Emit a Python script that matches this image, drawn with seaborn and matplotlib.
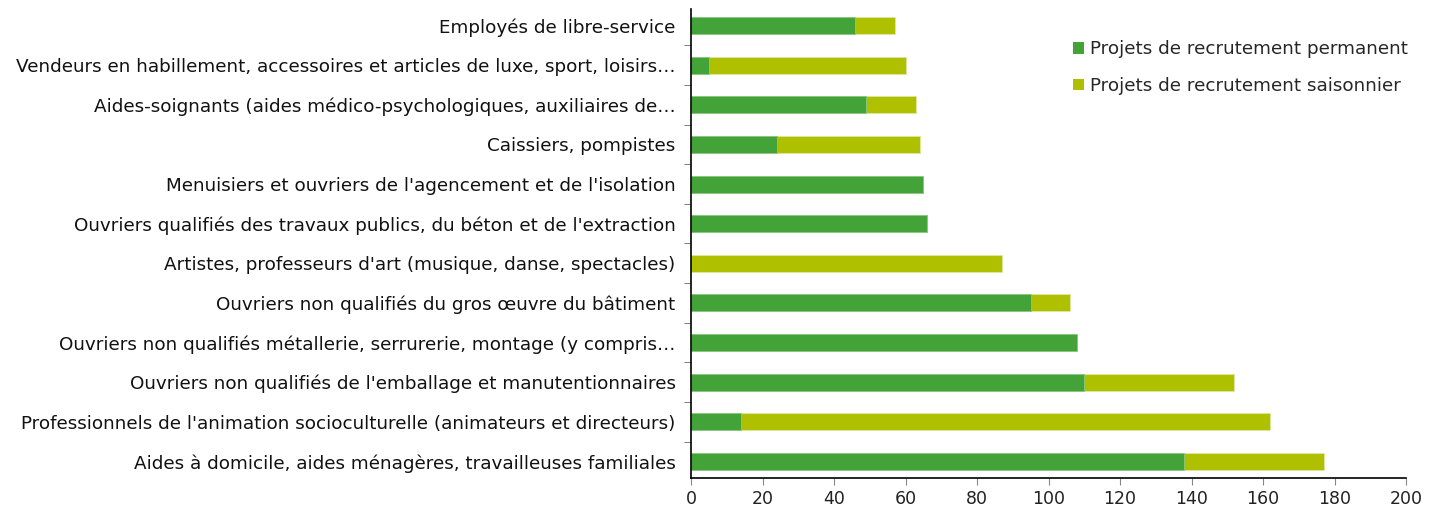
import matplotlib
matplotlib.use("Agg")
import matplotlib.pyplot as plt
import seaborn as sns
import numpy as np
import pandas as pd
from matplotlib.patches import Patch

categories = [
    "Employés de libre-service",
    "Vendeurs en habillement, accessoires et articles de luxe, sport, loisirs…",
    "Aides-soignants (aides médico-psychologiques, auxiliaires de…",
    "Caissiers, pompistes",
    "Menuisiers et ouvriers de l'agencement et de l'isolation",
    "Ouvriers qualifiés des travaux publics, du béton et de l'extraction",
    "Artistes, professeurs d'art (musique, danse, spectacles)",
    "Ouvriers non qualifiés du gros œuvre du bâtiment",
    "Ouvriers non qualifiés métallerie, serrurerie, montage (y compris…",
    "Ouvriers non qualifiés de l'emballage et manutentionnaires",
    "Professionnels de l'animation socioculturelle (animateurs et directeurs)",
    "Aides à domicile, aides ménagères, travailleuses familiales",
]
permanent = [46, 5, 49, 24, 65, 66, 0, 95, 108, 110, 14, 138]
saisonnier = [11, 55, 14, 40, 0, 0, 87, 11, 0, 42, 148, 39]
series_names = ["Projets de recrutement permanent", "Projets de recrutement saisonnier"]
x_ticks = [0, 20, 40, 60, 80, 100, 120, 140, 160, 180, 200]

c_perm = "#43a338"
c_sais = "#afc000"

sns.set_style("white")
plt.rcParams["font.family"] = ["DejaVu Sans"]

df = pd.DataFrame({"cat": categories,
                   "perm": permanent,
                   "total": np.array(permanent) + np.array(saisonnier)})

fig = plt.figure(figsize=(14.38, 5.19), dpi=100)
ax = fig.add_axes([691 / 1438, 1 - 478 / 519, (1406 - 691) / 1438, (478 - 9) / 519])

sns.barplot(data=df, x="total", y="cat", color=c_sais, width=0.43, orient="h",
            ax=ax, saturation=1, edgecolor="#dce8a0", linewidth=0.6)
sns.barplot(data=df, x="perm", y="cat", color=c_perm, width=0.43, orient="h",
            ax=ax, saturation=1, edgecolor="#8cc888", linewidth=0.6)

ax.set_xlim(0, 200)
ax.set_ylim(len(categories) - 1 + 0.42, -0.42)
ax.set_xticks(x_ticks)
ax.set_xlabel("")
ax.set_ylabel("")
ax.tick_params(axis="x", labelsize=12.5, length=5, color="#888888", direction="out",
               bottom=True, pad=4, labelcolor="#222222")
ax.tick_params(axis="y", which="major", length=0, labelsize=13.2, pad=11, labelcolor="#111111")
ax.set_yticks(np.arange(len(categories) - 1) + 0.5, minor=True)
ax.tick_params(axis="y", which="minor", length=5, color="#666666", direction="out", left=True)

for s in ["top", "right"]:
    ax.spines[s].set_visible(False)
for s in ["left", "bottom"]:
    ax.spines[s].set_color("black")
    ax.spines[s].set_linewidth(1.2)

handles = [Patch(facecolor=c_perm, edgecolor="none"), Patch(facecolor=c_sais, edgecolor="none")]
fig.legend(handles, series_names, loc="upper left", bbox_to_anchor=(1056 / 1438, 1 - 24 / 519),
           frameon=False, fontsize=13.2, handlelength=0.6, handleheight=0.6,
           handletextpad=0.35, labelspacing=1.0)

fig.savefig("out.png", dpi=100)
